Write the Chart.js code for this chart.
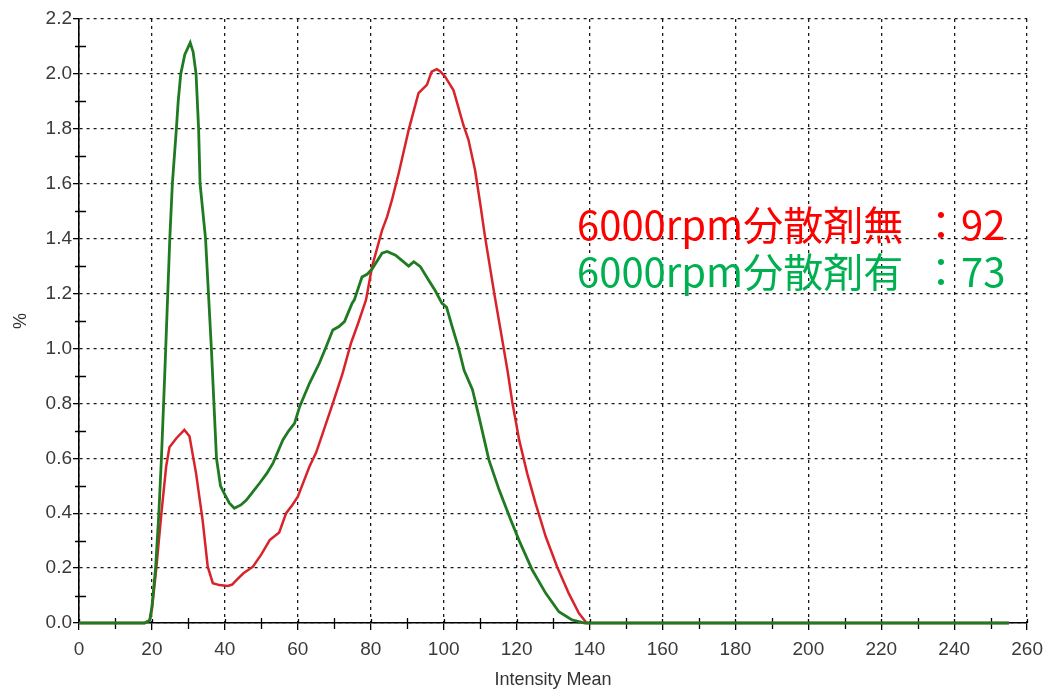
<!DOCTYPE html>
<html><head><meta charset="utf-8">
<script src="https://cdn.jsdelivr.net/npm/chart.js@4/dist/chart.umd.min.js"></script>
<style>
html,body{margin:0;padding:0;background:#fff;}
#wrap{position:relative;width:1051px;height:691px;background:#fff;}
canvas{display:block;}
.note{position:absolute;left:577px;font-family:"Noto Sans CJK JP";font-size:40px;line-height:40px;white-space:pre;word-spacing:9px;}
</style></head><body>
<div id="wrap"><canvas id="c" width="1051" height="691"></canvas>
<div class="note" id="n1" style="top:203px;color:#ff0000"></div>
<div class="note" id="n2" style="top:250px;color:#00b050"></div>
</div>
<script>
// ---- data ----
const seriesNames = ['6000rpm分散剤有', '6000rpm分散剤無'];
const noteLabels = ['6000rpm分散剤無 ：92', '6000rpm分散剤有 ：73'];

const greenX = [0,18,19.4,20,21,21.9,22.6,23.5,24.2,24.9,25.6,26.7,27.2,27.9,29,30.5,31.3,32.1,32.8,33.2,34.7,35.5,36.3,37,37.7,38.8,39.5,41.2,42.6,44.4,45.9,47.5,49.5,51.5,53.2,55.9,57.5,59.1,60.5,63.2,65.9,67.8,69.6,71.3,72.8,74.9,75.5,77.6,79,80.4,83.1,84.5,86.8,88.6,90.4,91.8,93.6,95.8,97.7,99.5,100.8,102.3,104,105.6,107.9,109.7,112.4,115.2,118.4,120.7,124.3,128,131.6,135.2,138.7,255];
const greenY = [0,0,0.01,0.06,0.2,0.4,0.6,0.9,1.15,1.4,1.6,1.8,1.9,2.0,2.07,2.114,2.08,2.0,1.8,1.6,1.4,1.2,1.0,0.8,0.6,0.5,0.48,0.437,0.418,0.43,0.448,0.475,0.509,0.545,0.582,0.667,0.70,0.727,0.788,0.873,0.946,1.007,1.067,1.08,1.098,1.165,1.177,1.26,1.27,1.29,1.347,1.353,1.34,1.32,1.30,1.316,1.298,1.25,1.21,1.165,1.15,1.08,1.006,0.92,0.85,0.75,0.594,0.485,0.375,0.30,0.193,0.108,0.041,0.011,0,0];

const redX = [0,18,19.4,20,21.2,22.6,23.9,24.8,26.7,28.9,30.3,32.1,33.9,35.3,36.7,38.5,40.8,42,43.1,45,47.7,50,52.3,54.9,56.8,58.5,60,63.2,65,66.8,69.6,72.3,74.6,76.5,78.7,80.4,83.1,84.5,85.8,87.7,90.4,93.1,95.4,96.7,98.1,99,100.4,102.7,104,105.4,106.8,108.6,110,111.3,114,115.6,117.5,118.8,120.7,122.9,125.2,128,131.1,134.3,137.1,139.2,255];
const redY = [0,0,0.01,0.05,0.2,0.4,0.57,0.64,0.673,0.703,0.68,0.545,0.375,0.205,0.145,0.138,0.135,0.14,0.155,0.18,0.205,0.25,0.302,0.33,0.40,0.43,0.46,0.57,0.62,0.69,0.80,0.91,1.02,1.09,1.177,1.30,1.43,1.48,1.54,1.64,1.796,1.93,1.96,2.008,2.017,2.01,1.99,1.94,1.88,1.814,1.76,1.65,1.53,1.41,1.19,1.067,0.92,0.806,0.667,0.545,0.436,0.314,0.205,0.108,0.035,0,0];

const xTickValues = [0,20,40,60,80,100,120,140,160,180,200,220,240,260];
const yTickValues = [0,0.2,0.4,0.6,0.8,1.0,1.2,1.4,1.6,1.8,2.0,2.2];
const xMinorTicks = [10,30,50,70,90,110,130,150,170,190,210,230,250];
const yMinorTicks = [0.1,0.3,0.5,0.7,0.9,1.1,1.3,1.5,1.7,1.9,2.1];
const xTitle = 'Intensity Mean';
const yTitle = '%';

document.getElementById('n1').textContent = noteLabels[0];
document.getElementById('n2').textContent = noteLabels[1];

const minorTicks = {
  id: 'minorTicks',
  beforeDatasetsDraw(chart) {
    const {ctx, scales: {x, y}} = chart;
    ctx.save();
    ctx.strokeStyle = '#000';
    ctx.lineWidth = 1.3;
    ctx.beginPath();
    const y0 = y.getPixelForValue(0);
    const x0 = x.getPixelForValue(0);
    xMinorTicks.forEach(v => { const p = Math.round(x.getPixelForValue(v)) + 0.5; ctx.moveTo(p, y0 - 5); ctx.lineTo(p, y0 + 6); });
    xTickValues.forEach(v => { const p = Math.round(x.getPixelForValue(v)) + 0.5; ctx.moveTo(p, y0 - 4); ctx.lineTo(p, y0); });
    yMinorTicks.forEach(v => { const p = Math.round(y.getPixelForValue(v)) + 0.5; ctx.moveTo(x0 - 4, p); ctx.lineTo(x0 + 7, p); });
    ctx.stroke();
    ctx.restore();
  }
};

const tickFont = {family: 'Liberation Sans', size: 19};

new Chart(document.getElementById('c'), {
  type: 'line',
  data: {
    datasets: [
      {label: seriesNames[0], data: greenX.map((v, i) => ({x: v, y: greenY[i]})), borderColor: '#1f7a22', borderWidth: 2.8, pointRadius: 0, tension: 0, fill: false, clip: 6},
      {label: seriesNames[1], data: redX.map((v, i) => ({x: v, y: redY[i]})), borderColor: '#d9232b', borderWidth: 2.5, pointRadius: 0, tension: 0, fill: false, clip: 6}
    ]
  },
  options: {
    responsive: false,
    animation: false,
    devicePixelRatio: 1,
    layout: {padding: {top: 19, right: 21, left: 0, bottom: 0}},
    plugins: {legend: {display: false}, tooltip: {enabled: false}},
    scales: {
      x: {
        type: 'linear', min: 0, max: 260,
        afterBuildTicks: s => { s.ticks = xTickValues.map(v => ({value: v})); },
        afterFit: s => { s.height = 68; },
        ticks: {font: tickFont, color: '#3a3a3a', padding: 8, maxRotation: 0, autoSkip: false},
        grid: {color: '#1a1a1a', lineWidth: 1.3, tickLength: 7, tickColor: '#000', tickWidth: 1.3},
        border: {display: true, color: '#000', width: 1.6, dash: [3, 4]},
        title: {display: true, text: xTitle, font: {family: 'Liberation Sans', size: 18}, color: '#333', padding: {top: 0, bottom: 0}}
      },
      y: {
        type: 'linear', min: 0, max: 2.2,
        afterBuildTicks: s => { s.ticks = yTickValues.map(v => ({value: v})); },
        afterFit: s => { s.width = 79; },
        ticks: {font: tickFont, color: '#3a3a3a', padding: 1, autoSkip: false, callback: v => Number(v).toFixed(1)},
        grid: {color: '#1a1a1a', lineWidth: 1.3, tickLength: 6, tickColor: '#000', tickWidth: 1.3},
        border: {display: true, color: '#000', width: 1.6, dash: [3, 4]},
        title: {display: true, text: yTitle, font: {family: 'Liberation Sans', size: 18}, color: '#333', padding: {top: 10, bottom: 0}}
      }
    }
  },
  plugins: [minorTicks]
});
</script>
</body></html>
